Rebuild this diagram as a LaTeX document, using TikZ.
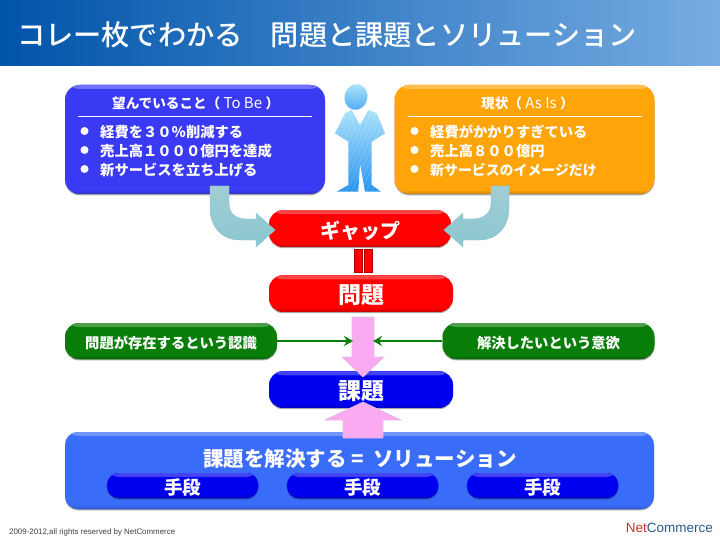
\documentclass[tikz,border=0pt]{standalone}
\usepackage{fontspec}
\setmainfont{Noto Sans CJK JP}
\newfontfamily\titlefont{Noto Sans CJK JP Medium}
\newfontfamily\latinsf{Liberation Sans}
\usetikzlibrary{shadows,arrows.meta}
\definecolor{boxblue}{RGB}{58,58,245}
\definecolor{boxorange}{RGB}{255,165,10}
\definecolor{pillred}{RGB}{255,0,0}
\definecolor{pillblue}{RGB}{0,0,240}
\definecolor{pillgreen}{RGB}{8,125,8}
\definecolor{solblue}{RGB}{58,108,250}
\definecolor{pinkfill}{RGB}{250,170,240}
\definecolor{pinkedge}{RGB}{225,190,225}
\definecolor{tealA}{RGB}{160,206,212}
\definecolor{tealB}{RGB}{190,232,238}
\definecolor{tealC}{RGB}{140,198,208}
\definecolor{headL}{RGB}{0,84,170}
\definecolor{headR}{RGB}{118,172,226}
\definecolor{netblue}{RGB}{40,90,140}
\definecolor{netred}{RGB}{200,50,50}
\definecolor{manTop}{RGB}{178,230,250}
\definecolor{manBot}{RGB}{35,145,240}
\newcommand{\lowered}[1]{\raisebox{-2pt}[\height][\depth]{#1}}
\newcommand{\widelatin}[1]{{\mdseries\fontsize{15}{15}\selectfont\ #1\ }}
\tikzset{
  x=1pt,y=-1pt,
  gloss/.style={draw=none,fill=#1,inner sep=0pt,text=white,font=\bfseries,
    drop shadow={shadow xshift=0pt,shadow yshift=-1.4pt,opacity=.35,fill=black},
    path picture={
      \fill[top color=#1!72!white,bottom color=#1]
        (path picture bounding box.north west) rectangle ([yshift=-4pt]path picture bounding box.north east);
      \fill[top color=#1,bottom color=#1!80!black]
        ([yshift=4pt]path picture bounding box.south west) rectangle (path picture bounding box.south east);
    }},
  bigbox/.style={gloss=#1,rounded corners=15pt,minimum width=260pt,minimum height=109pt},
  pill/.style={gloss=#1,rounded corners=14pt,minimum height=36.5pt,minimum width=184pt,font=\bfseries\fontsize{23}{25}\selectfont},
  sidepill/.style={gloss=pillgreen,rounded corners=14pt,minimum height=36pt,minimum width=212pt,font=\bfseries\fontsize{14.3}{16}\selectfont},
  meanspill/.style={gloss=pillblue,rounded corners=12pt,minimum height=25pt,minimum width=151.5pt,font=\bfseries\fontsize{18.5}{20}\selectfont},
  boxhead/.style={text=white,font=\bfseries\fontsize{13.6}{15}\selectfont,inner sep=0pt,anchor=west},
  boxrow/.style={text=white,font=\bfseries\fontsize{14.3}{16}\selectfont,inner sep=0pt,anchor=west},
  dotmark/.style={circle,fill=white,minimum size=8pt,inner sep=0pt},
  rulew/.style={draw=white,line width=.9pt},
  eqbar/.style={fill=pillred,draw=pillred!70!black,line width=.5pt},
  benttube/.style={top color=tealA,middle color=tealB,bottom color=tealC,draw=tealC,line width=.4pt},
  pinkarrow/.style={fill=pinkfill,draw=pinkedge,line width=.6pt},
  pushline/.style={draw=pillgreen,line width=1.8pt,-{Stealth[length=9pt,width=10pt]}},
}
\begin{document}
\begin{tikzpicture}
\useasboundingbox (0,0) rectangle (720,540);
\fill[white] (0,0) rectangle (720,540);
\shade[left color=headL,right color=headR] (0,0) rectangle (720,66);
\node[text=white,anchor=center,inner sep=0pt,font=\titlefont\fontsize{28.2}{30}\selectfont] (title) at (327,35) {コレー枚でわかる　問題と課題とソリューション};

% person
\begin{scope}
\clip (351.7,110) -- (360,125) -- (368.3,110) -- (376.7,113.3) -- (385,133.3) -- (371.7,141.7) -- (371.7,185) -- (381,191.7) -- (365,191.7) -- (360,163.3) -- (358.3,191.7) -- (336.7,191.7) -- (348.3,185) -- (348.3,141.7) -- (335,133.3) -- (345,113.3) -- cycle;
\shade[top color=manTop,bottom color=manBot] (330,105) rectangle (390,195);
\foreach \k in {0,5,...,120} \draw[white,opacity=.18,line width=.7pt] (310+\k,195) -- (370+\k-20,105);
\end{scope}
\shade[top color=manTop,bottom color=manBot!70!manTop,rotate around={-15:(356,97)}] (356,97) ellipse [x radius=11.5,y radius=13];

% top boxes
\node[bigbox=boxblue] (want) at (195,139.5) {};
\node[bigbox=boxorange] (now) at (524.5,139.5) {};
\node[boxhead] (wanthead) at (112,103) {望んでいること（\widelatin{To Be}）};
\node[boxhead] (nowhead) at (481,103) {現状（\widelatin{As Is}）};
\coordinate (wl) at (78,116); \coordinate (wr) at (312,116);
\coordinate (nl) at (408,116); \coordinate (nr) at (642,116);
\draw[rulew] (wl) -- (wr);
\draw[rulew] (nl) -- (nr);
\node[dotmark] (d1) at (84.5,131) {};
\node[dotmark] (d2) at (84.5,150) {};
\node[dotmark] (d3) at (84.5,169) {};
\node[dotmark] (d4) at (414.5,131) {};
\node[dotmark] (d5) at (414.5,150) {};
\node[dotmark] (d6) at (414.5,169) {};
\node[boxrow] (r1) at (100,132) {経費を３０％削減する};
\node[boxrow] (r2) at (100,151) {売上高１０００億円を達成};
\node[boxrow] (r3) at (100,170) {新サービスを立ち上げる};
\node[boxrow] (r4) at (430,132) {経費がかかりすぎている};
\node[boxrow] (r5) at (430,151) {売上高８００億円};
\node[boxrow,font=\bfseries\fontsize{13.9}{16}\selectfont] (r6) at (430,170) {新サービスのイメージだけ};

% central pills
\node[pill=pillred,minimum width=182pt,font=\bfseries\fontsize{20}{22}\selectfont] (gap) at (360,228.5) {\lowered{ギャップ}};
\node[pill=pillred] (prob) at (361,293.5) {\lowered{問題}};
\node[pill=pillblue] (task) at (361,389.5) {\lowered{課題}};
\node[sidepill] (aware) at (171,341) {\lowered{問題が存在するという認識}};
\node[sidepill] (will) at (548.5,341) {\lowered{解決したいという意欲}};

% equals bars
\fill[eqbar] (354,249) rectangle (362,272);
\fill[eqbar] (364.5,249) rectangle (372,272);

% solution
\node[gloss=solblue,rounded corners=13pt,minimum width=589pt,minimum height=77pt] (sol) at (359.5,470.5) {};
\node[text=white,inner sep=0pt,font=\bfseries\fontsize{20.5}{23}\selectfont] (soltext) at (360,458.5) {課題を解決する\ =\ \ ソリューション};
\node[meanspill] (m1) at (182.7,485.5) {\lowered{手段}};
\node[meanspill] (m2) at (362.7,485.5) {\lowered{手段}};
\node[meanspill] (m3) at (542.7,485.5) {\lowered{手段}};

% bent arrows
\path[benttube] (210,186) -- (229,186) -- (229,203) .. controls (229,214) and (236,219) .. (247,219) -- (256,219) -- (256,213) -- (275,230) -- (256,247) -- (256,240) -- (240,240) .. controls (221,240) and (210,226) .. (210,208) -- cycle;
\path[benttube] (491,186) -- (509,186) -- (509,208) .. controls (509,226) and (498,240) .. (479,240) -- (463,240) -- (463,247) -- (444,230) -- (463,213) -- (463,219) -- (472,219) .. controls (483,219) and (491,214) .. (491,203) -- cycle;

% pink arrows and green pushes
\path[pinkarrow] (352,317) -- (374,317) -- (374,357) -- (384,357) -- (363,377) -- (342,357) -- (352,357) -- cycle;
\path[pinkarrow] (343,438) -- (383,438) -- (383,420) -- (401,420) -- (363,402) -- (325,420) -- (343,420) -- cycle;
\coordinate (pl) at (353,341);
\coordinate (pr) at (373,341);
\draw[pushline] (aware.east) -- (pl);
\draw[pushline] (will.west) -- (pr);

% footer
\node[anchor=west,inner sep=0pt,font=\latinsf\fontsize{7.9}{9}\selectfont,text=black!75] (copy) at (9,532) {2009-2012,all rights reserved by NetCommerce};
\node[anchor=east,inner sep=0pt,font=\latinsf\fontsize{13.5}{15}\selectfont] (brand) at (713,528) {\textcolor{netred}{Net}\textcolor{netblue}{Commerce}};
\end{tikzpicture}
\end{document}
